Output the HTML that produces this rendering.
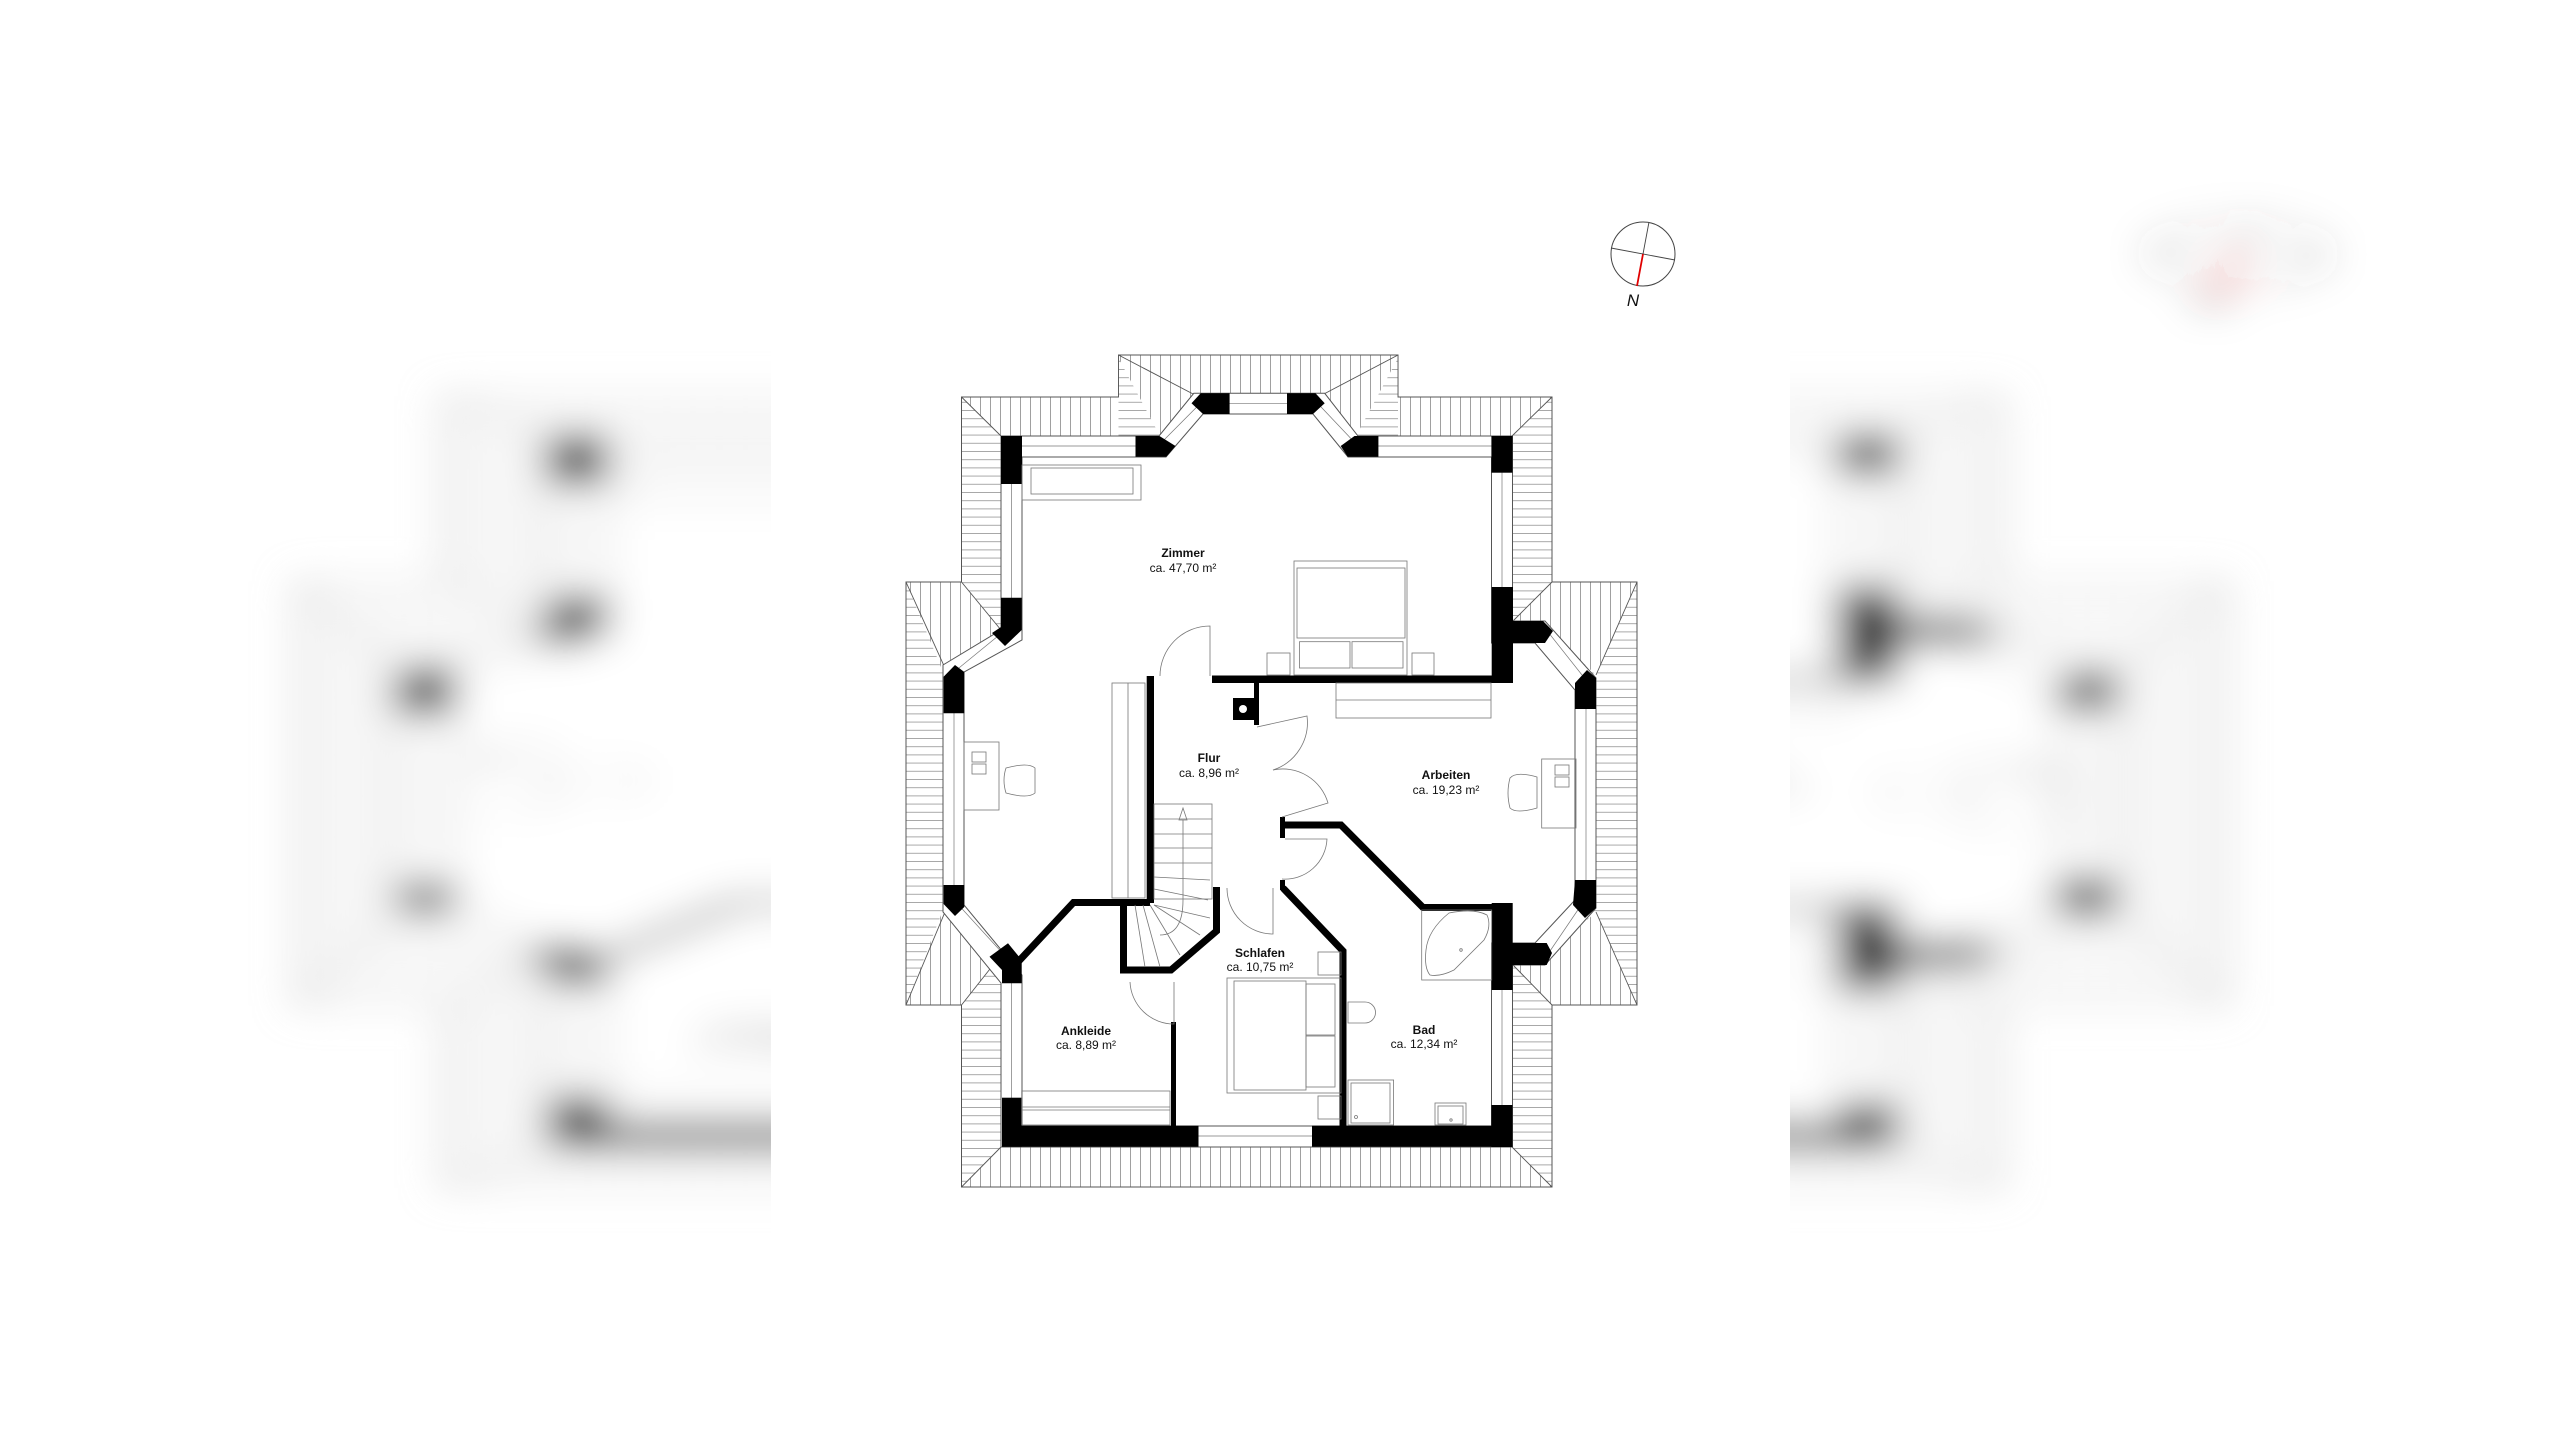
<!DOCTYPE html>
<html><head><meta charset="utf-8"><style>
html,body{margin:0;padding:0;background:#fff;}
svg{display:block}
text{font-family:"Liberation Sans",Arial,sans-serif;fill:#111}
</style></head><body>
<svg width="2560" height="1440" viewBox="0 0 2560 1440" xmlns="http://www.w3.org/2000/svg">
<defs>
<pattern id="hh" width="20" height="8.2" patternUnits="userSpaceOnUse"><rect width="20" height="8.2" fill="#fff"/><line x1="0" y1="0.5" x2="20" y2="0.5" stroke="#888" stroke-width="0.8"/></pattern>
<pattern id="vv" width="10" height="20" patternUnits="userSpaceOnUse"><rect width="10" height="20" fill="#fff"/><line x1="0.5" y1="0" x2="0.5" y2="20" stroke="#888" stroke-width="0.8"/></pattern>
<filter id="bl" x="-20%" y="-20%" width="140%" height="140%"><feGaussianBlur stdDeviation="8 19"/></filter>
<g id="plan">
 <polygon points="961.5,397 1118.5,397 1118.5,355 1398,355 1398,397 1552,397 1552,582 1637,582 1637,1005 1552,1005 1552,1187 961.5,1187 961.5,1005 906,1005 906,582 961.5,582" fill="url(#hh)" stroke="#555" stroke-width="1"/>
 <polygon points="961.5,397 1118.5,397 1118.5,355 1398,355 1398,397 1552,397 1512,436 1001,436" fill="url(#vv)"/>
 <polygon points="1118.5,358 1160,436 1118.5,436" fill="url(#hh)"/>
 <polygon points="1398,358 1356,436 1398,436" fill="url(#hh)"/>
 <polygon points="961.5,1187 1552,1187 1512,1147 1001,1147" fill="url(#vv)"/>
 <polygon points="906,582 961.5,582 1001,630 943,672" fill="url(#vv)"/>
 <polygon points="906,1005 961.5,1005 1001,955 943,910" fill="url(#vv)"/>
 <polygon points="1552,582 1637,582 1596,675 1543,625 1513,621" fill="url(#vv)"/>
 <polygon points="1552,1005 1637,1005 1596,912 1543,960 1513,965" fill="url(#vv)"/>
 <g stroke="#555" stroke-width="0.9" fill="none">
  <polygon points="961.5,397 1118.5,397 1118.5,355 1398,355 1398,397 1552,397 1552,582 1637,582 1637,1005 1552,1005 1552,1187 961.5,1187 961.5,1005 906,1005 906,582 961.5,582"/>
  <line x1="961.5" y1="397" x2="1001" y2="436"/><line x1="1552" y1="397" x2="1512" y2="436"/>
  <line x1="961.5" y1="1187" x2="1001" y2="1147"/><line x1="1552" y1="1187" x2="1512" y2="1147"/>
  <line x1="1118.5" y1="355" x2="1195" y2="395"/><line x1="1398" y1="355" x2="1322" y2="395"/>
  <line x1="906" y1="582" x2="945" y2="668"/><line x1="961.5" y1="582" x2="1001" y2="630"/>
  <line x1="906" y1="1005" x2="945" y2="912"/><line x1="961.5" y1="1005" x2="1001" y2="955"/>
  <line x1="1637" y1="582" x2="1596" y2="675"/><line x1="1552" y1="582" x2="1513" y2="621"/>
  <line x1="1637" y1="1005" x2="1596" y2="912"/><line x1="1552" y1="1005" x2="1513" y2="965"/>
 </g>
 <polygon points="1001,436 1159,436 1193.8,393.3 1324.7,393.3 1358,436 1512.5,436 1512.5,621 1545,621 1596,678 1596,908 1545,965 1512.5,965 1512.5,1147 1001,1147 1001,983 943,912 943,665 1001,630" fill="#fff" stroke="#555" stroke-width="1"/>
 <polygon points="1022,457 1166,457 1203,414 1313,414 1348,457 1491.5,457 1491.5,643 1535,643 1575,690 1575,900 1535,943 1491.5,943 1491.5,1126 1022,1126 1022,975 964,905 964,672 1022,640" fill="#fff" stroke="#555" stroke-width="1"/>
 <polyline points="1011.5,446 1158,446 1200,403.7 1318,403.7 1358,446 1502,446 1502,632 1548,632 1586,680 1586,898 1548,954 1502,954 1502,1136 1011.5,1136 1011.5,963 954,900 954,672 1011.5,625 1011.5,446" fill="none" stroke="#777" stroke-width="0.7"/>
 <g fill="#000">
  <rect x="1001" y="436" width="21" height="48"/>
  <polygon points="1135.5,436 1159.4,436 1175.5,446 1166.3,456.7 1135.5,456.7"/>
  <polygon points="1200.7,393.3 1229.6,393.3 1229.6,414 1203,414 1191.5,403.3"/>
  <polygon points="1287,393.3 1315.5,393.3 1324.7,403.3 1313,414 1287,414"/>
  <polygon points="1354.5,436 1378.4,436 1378.4,456.7 1347.7,456.7 1340.7,446"/>
  <rect x="1491.4" y="436" width="21.1" height="36.7"/>
  <polygon points="1491.7,587 1513,587 1513,621 1543,621 1553,631 1545,643 1513,643 1513,683 1491.7,683"/>
  <rect x="1212" y="675.5" width="290" height="7.5"/>
  <polygon points="1575,683 1587,670 1596,678 1596,709 1575,709"/>
  <polygon points="1575,880 1596,880 1596,908 1585,918 1573,905"/>
  <polygon points="1491.7,903 1512.7,903 1512.7,943 1546.7,943 1552,953 1546.7,965 1512.7,965 1512.7,990 1491.7,990"/>
  <rect x="1491.4" y="1105" width="21.1" height="42"/>
  <rect x="1312" y="1125.7" width="200.5" height="21"/>
  <rect x="1002" y="1125.7" width="196.5" height="21"/>
  <rect x="1002" y="1097.7" width="19.7" height="49"/>
  <polygon points="989.5,956.7 1008,943.3 1021.7,960 1021.7,983.3 1002,983.3 1002,970"/>
  <polygon points="943.6,885 964.3,885 964.3,907 955,916 943.6,904"/>
  <polygon points="955,665 964.3,672 964.3,713.3 943.6,713.3 943.6,676.7"/>
  <polygon points="1001,597.7 1021.7,597.7 1021.7,630 1005,646 992,633 1001,627"/>
  <rect x="1146.7" y="676" width="7.3" height="227"/>
  <rect x="1233" y="698" width="21" height="22"/>
  <rect x="1254" y="676" width="5" height="49"/>
  <rect x="1280" y="817" width="5" height="21"/>
  <rect x="1280" y="880" width="5" height="10"/>
  <rect x="1171" y="1022" width="5" height="105"/>
 </g>
 <circle cx="1243" cy="709" r="4" fill="#fff"/>
 <g fill="none" stroke="#000" stroke-width="7">
  <polyline points="1283,825 1341,825 1423,907.5 1502,907.5"/>
  <polyline points="1018,962 1073.5,902.5 1150,902.5"/>
  <polyline points="1123.5,900 1123.5,970 1171,970 1216.5,931 1216.5,887"/>
  <polyline points="1283,888 1343,951 1343,1128"/>
 </g>
 <g fill="none" stroke="#777" stroke-width="0.8">
  <rect x="1112" y="683" width="33" height="215"/><line x1="1128" y1="683" x2="1128" y2="898"/>
  <rect x="1154" y="804" width="58" height="95"/>
  <line x1="1154" y1="819" x2="1212" y2="819"/><line x1="1154" y1="834" x2="1212" y2="834"/><line x1="1154" y1="848" x2="1212" y2="848"/><line x1="1154" y1="863" x2="1212" y2="863"/><line x1="1154" y1="877" x2="1210" y2="880"/>
  <line x1="1154" y1="889" x2="1208" y2="900"/><line x1="1154" y1="905" x2="1210" y2="918"/><line x1="1154" y1="905" x2="1200" y2="935"/><line x1="1150" y1="905" x2="1180" y2="955"/><line x1="1143" y1="905" x2="1160" y2="967"/><line x1="1135" y1="905" x2="1145" y2="967"/>
  <path d="M1183,820 L1183,900 Q1183,935 1160,935"/>
  <path d="M1179,820 L1183,808 L1187,820 Z"/>
 </g>
 <g fill="none" stroke="#777" stroke-width="0.8">
  <path d="M1160,676 A50,50 0 0 1 1210,626 L1210,676"/>
  <path d="M1257,727 L1307,716 A50,50 0 0 1 1273,770"/>
  <path d="M1282,817 L1328,803 A47,47 0 0 0 1273,770"/>
  <path d="M1285,839 L1327,839 A42,42 0 0 1 1282,879"/>
  <path d="M1227,888 A46,46 0 0 0 1273,934 L1273,888"/>
  <path d="M1130,982 A44,44 0 0 0 1174,1024 L1174,982"/>
 </g>
 <g fill="none" stroke="#777" stroke-width="0.8">
  <rect x="1022" y="465" width="119" height="35"/><rect x="1031" y="468" width="102" height="26"/>
  <rect x="1294" y="561" width="113" height="114"/><rect x="1297" y="568" width="108" height="70"/>
  <rect x="1299.5" y="641.7" width="50.5" height="26.3"/><rect x="1352" y="641.7" width="51" height="26.3"/>
  <rect x="1267" y="653" width="23" height="22"/><rect x="1412" y="653" width="22" height="22"/>
  <rect x="1336" y="683" width="155" height="35"/><line x1="1336" y1="700" x2="1491" y2="700"/>
  <rect x="964" y="742" width="35" height="68"/><rect x="972" y="752" width="14" height="10"/><rect x="972" y="764" width="14" height="10"/>
  <path d="M1006,768 Q1028,762 1035,768 L1035,793 Q1028,799 1006,793 Q1002,780 1006,768 Z"/>
  <rect x="1541.7" y="759" width="34.3" height="69"/><rect x="1555" y="765" width="14" height="10"/><rect x="1555" y="777" width="14" height="10"/>
  <path d="M1537,777 Q1516,771 1510,778 Q1506,793 1510,808 Q1516,814 1537,808 Z"/>
  <rect x="1421.7" y="910" width="70" height="70"/>
  <path d="M1449,913 Q1474,908 1487,915 Q1492,926 1484,940 L1454,970 Q1440,977 1430,975 Q1424,968 1426,950 Q1428,930 1449,913 Z"/>
  <circle cx="1461" cy="950" r="1.3"/>
  <path d="M1348,1002 L1365,1002 A10.5,10.5 0 0 1 1365,1023 L1348,1023 Z"/>
  <rect x="1348" y="1080" width="45.6" height="45"/><rect x="1351" y="1083" width="39" height="40"/><circle cx="1356" cy="1117" r="1.5"/>
  <rect x="1435" y="1103" width="31" height="22"/><rect x="1438" y="1106" width="25" height="18"/><circle cx="1451" cy="1120" r="1.2"/>
  <rect x="1227" y="978" width="114" height="115"/><rect x="1234" y="981" width="72" height="109"/>
  <rect x="1306" y="984" width="29" height="51"/><rect x="1306" y="1036" width="29" height="51"/>
  <rect x="1318" y="952" width="23" height="23"/><rect x="1318" y="1096" width="23" height="23"/>
  <rect x="1021.7" y="1091" width="148.3" height="34"/><line x1="1021.7" y1="1107" x2="1170" y2="1107"/><line x1="1021.7" y1="1110" x2="1170" y2="1110"/>
 </g>
 <g font-size="12" text-anchor="middle">
  <text x="1183" y="557" font-weight="bold">Zimmer</text><text x="1183" y="572">ca. 47,70 m²</text>
  <text x="1209" y="762" font-weight="bold">Flur</text><text x="1209" y="777">ca. 8,96 m²</text>
  <text x="1446" y="779" font-weight="bold">Arbeiten</text><text x="1446" y="794">ca. 19,23 m²</text>
  <text x="1260" y="957" font-weight="bold">Schlafen</text><text x="1260" y="971">ca. 10,75 m²</text>
  <text x="1086" y="1035" font-weight="bold">Ankleide</text><text x="1086" y="1049">ca. 8,89 m²</text>
  <text x="1424" y="1034" font-weight="bold">Bad</text><text x="1424" y="1048">ca. 12,34 m²</text>
 </g>
 <circle cx="1643" cy="254" r="32" fill="none" stroke="#444" stroke-width="1"/>
 <line x1="1611" y1="248" x2="1675" y2="260" stroke="#444" stroke-width="0.9"/>
 <line x1="1649" y1="222" x2="1637" y2="286" stroke="#444" stroke-width="0.9"/>
 <line x1="1643" y1="254" x2="1637" y2="286" stroke="#e00000" stroke-width="1.8"/>
 <text x="1633" y="306" font-size="17" text-anchor="middle" font-style="italic">N</text>
</g>
</defs>
<rect width="2560" height="1440" fill="#fff"/>
<g filter="url(#bl)" transform="translate(1223,0) scale(2.63,1) translate(-1257,0)"><use href="#plan"/></g>
<rect x="771" y="0" width="1019" height="1440" fill="#fff"/>
<use href="#plan"/>
</svg>
</body></html>
